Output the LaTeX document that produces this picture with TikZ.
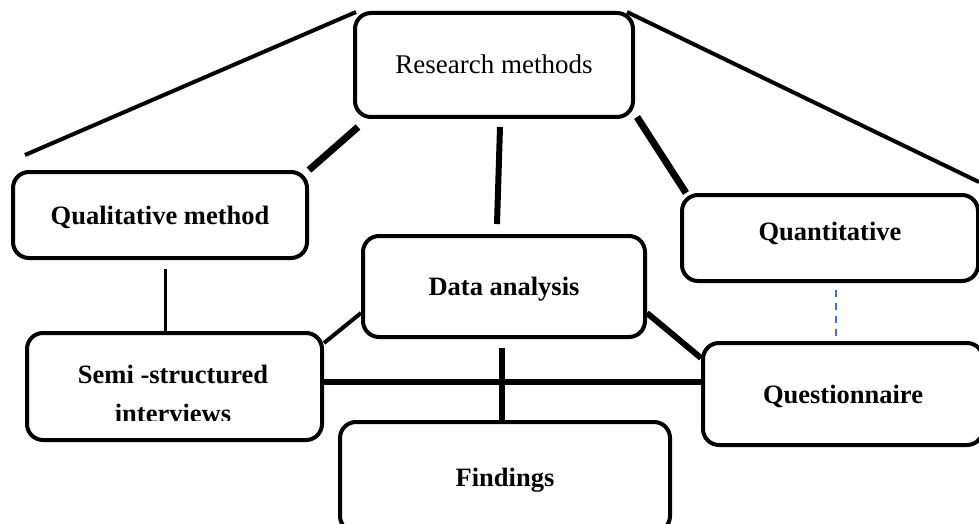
\documentclass[tikz,border=0pt]{standalone}
\usepackage{fontspec}
\setmainfont{Liberation Serif}
\definecolor{wordblue}{RGB}{68,114,196}

\begin{document}
\begin{tikzpicture}[x=1pt,y=-1pt,
    box/.style={draw, line width=4pt, rounded corners=16pt, inner sep=0pt, fill=white,
      font=\fontsize{26.5}{39}\selectfont\bfseries, text height=18pt, text depth=0pt},
    lbl/.style={inner sep=0pt, align=center, font=\fontsize{26.5}{39}\selectfont\bfseries},
    thinlink/.style={line width=3pt},
    link/.style={line width=4pt},
    midlink/.style={line width=6pt},
    boldlink/.style={line width=7pt},
    dashlink/.style={line width=1.5pt, color=wordblue, dash pattern=on 7pt off 6pt}]
    \clip (0,0) rectangle (979,524);

    % boxes
    \node[box, minimum width=278pt, minimum height=104pt, font=\fontsize{27}{32}\selectfont] (rm) at (494,65) {Research methods};
    \node[box, minimum width=294pt, minimum height=86pt] (qual) at (160,215) {Qualitative method};
    \node[box, minimum width=296pt, minimum height=86pt, text depth=14pt] (quant) at (830,238) {Quantitative};
    \node[box, minimum width=282pt, minimum height=101pt] (data) at (504,286.5) {Data analysis};
    \node[box, minimum width=295pt, minimum height=107pt] (semi) at (174.5,386.5) {};
    \node[box, minimum width=280pt, minimum height=102pt] (quest) at (843,394) {Questionnaire};
    \node[box, minimum width=330pt, minimum height=110pt] (find) at (505,477) {Findings};
    % second line of the semi box is cut off
    \begin{scope}
      \clip (20,330) rectangle (330,420.5);
      \node[lbl] (semitxt) at (173,393.5) {Semi -structured\\interviews};
    \end{scope}

    % long lines from the top box
    \coordinate (lend) at (25,155);
    \coordinate (rend) at (979,182);
    \draw[link] (lend) -- ([shift={(3,1)}]rm.north west);
    \draw[link] ([shift={(-8,1)}]rm.north east) -- (rend);

    % connectors
    \draw[boldlink] ([shift={(5,8)}]rm.south west) -- (qual.north east);
    \draw[midlink] ([shift={(6,8)}]rm.south) -- ([shift={(-7,-10)}]data.north);
    \draw[boldlink] ([shift={(2,-2)}]rm.south east) -- ([shift={(6,0)}]quant.north west);
    \draw[thinlink] ([shift={(5,9)}]qual.south) -- ([shift={(-9.5,0)}]semi.north);
    \draw[link] ([shift={(0,26.5)}]data.west) -- ([shift={(0,12)}]semi.north east);
    \draw[midlink] ([shift={(0,26.5)}]data.east) -- ([shift={(0,-36)}]quest.west);
    \draw[midlink] ([shift={(0,-4.5)}]semi.east) -- ([shift={(0,-4.5)}]semi.east -| quest.west);
    \draw[midlink] ([shift={(-2,9)}]data.south) -- ([shift={(-3,0)}]find.north);
    \draw[dashlink] ([shift={(6,7)}]quant.south) -- ([shift={(-7,-5)}]quest.north);
\end{tikzpicture}
\end{document}
